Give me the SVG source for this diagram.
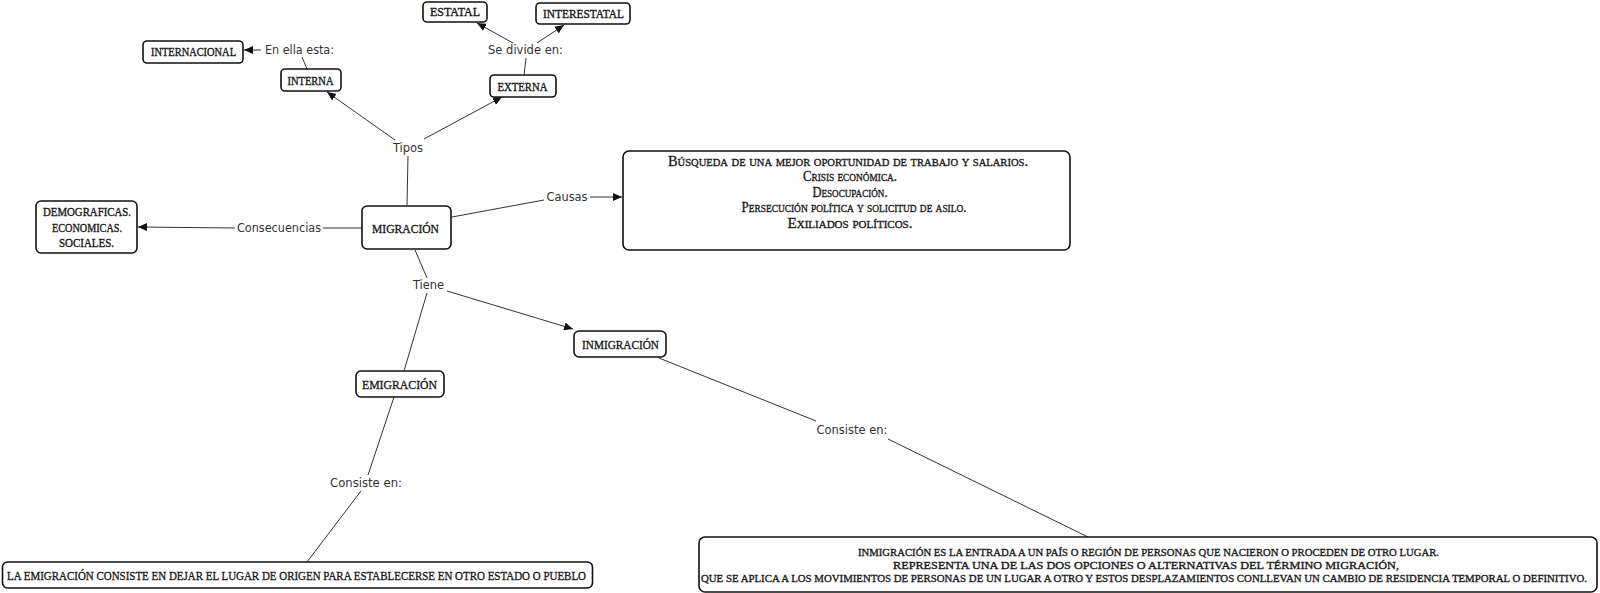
<svg xmlns="http://www.w3.org/2000/svg" width="1600" height="593" viewBox="0 0 1600 593">
<style>
.box{fill:#fff;stroke:#111;stroke-width:1.6}
.nt{font-family:"Liberation Serif","DejaVu Serif",serif;fill:#1a1a1a;stroke:#1a1a1a;stroke-width:0.35;text-anchor:middle}
.lb{font-family:"DejaVu Sans Condensed","DejaVu Sans",sans-serif;font-size:12px;fill:#333;text-anchor:middle}
.ln{stroke:#333;stroke-width:1;fill:none}
.ar{stroke:#333;stroke-width:1;fill:none;marker-end:url(#ah)}
.sc{font-variant:small-caps;font-size:15px}
</style>
<defs>
<marker id="ah" markerUnits="userSpaceOnUse" markerWidth="9" markerHeight="8" refX="9" refY="4" orient="auto">
<path d="M0,0 L9,4 L0,8 z" fill="#111"/>
</marker>
</defs>
<rect width="1600" height="593" fill="#fff"/>
<g id="connectors">
<line class="ln" x1="407" y1="205" x2="408" y2="156"/>
<line class="ar" x1="395" y1="140" x2="327" y2="92"/>
<line class="ar" x1="424" y1="139" x2="502" y2="97"/>
<line class="ln" x1="307" y1="69" x2="302" y2="57"/>
<line class="ar" x1="261" y1="50" x2="244" y2="50"/>
<line class="ln" x1="524" y1="75" x2="526" y2="58"/>
<line class="ar" x1="513" y1="43" x2="477" y2="23"/>
<line class="ar" x1="537" y1="43" x2="564" y2="25"/>
<line class="ln" x1="362" y1="228" x2="323" y2="228"/>
<line class="ar" x1="235" y1="228" x2="138" y2="227"/>
<line class="ln" x1="452" y1="217" x2="544" y2="200"/>
<line class="ar" x1="590" y1="197" x2="622" y2="197"/>
<line class="ln" x1="415" y1="250" x2="427" y2="278"/>
<line class="ar" x1="447" y1="291" x2="573" y2="329"/>
<line class="ln" x1="427" y1="293" x2="404" y2="371"/>
<line class="ln" x1="394" y1="397" x2="368" y2="475"/>
<line class="ln" x1="361" y1="491" x2="307" y2="562"/>
<line class="ln" x1="659" y1="358" x2="816" y2="421"/>
<line class="ln" x1="888" y1="439" x2="1088" y2="537"/>
<text class="lb" x="299.5" y="54" textLength="69" lengthAdjust="spacingAndGlyphs">En ella esta:</text>
<text class="lb" x="525.5" y="54" textLength="75" lengthAdjust="spacingAndGlyphs">Se divide en:</text>
<text class="lb" x="408" y="152" textLength="30" lengthAdjust="spacingAndGlyphs">Tipos</text>
<text class="lb" x="279" y="232" textLength="84" lengthAdjust="spacingAndGlyphs">Consecuencias</text>
<text class="lb" x="567" y="201" textLength="41" lengthAdjust="spacingAndGlyphs">Causas</text>
<text class="lb" x="428.5" y="289" textLength="31" lengthAdjust="spacingAndGlyphs">Tiene</text>
<text class="lb" x="366" y="487" textLength="72" lengthAdjust="spacingAndGlyphs">Consiste en:</text>
<text class="lb" x="852" y="434" textLength="71" lengthAdjust="spacingAndGlyphs">Consiste en:</text>
</g>
<g id="internacional">
<rect class="box" x="143" y="41" width="100" height="22" rx="4"/>
<text class="nt" x="193.5" y="55.5" font-size="11.5" textLength="85" lengthAdjust="spacingAndGlyphs">INTERNACIONAL</text>
</g>
<g id="interna">
<rect class="box" x="281" y="69" width="60" height="22" rx="4"/>
<text class="nt" x="310.5" y="84.5" font-size="11.5" textLength="46" lengthAdjust="spacingAndGlyphs">INTERNA</text>
</g>
<g id="estatal">
<rect class="box" x="423" y="2" width="64" height="20" rx="4"/>
<text class="nt" x="455" y="15.5" font-size="11.5" textLength="50" lengthAdjust="spacingAndGlyphs">ESTATAL</text>
</g>
<g id="interestatal">
<rect class="box" x="536" y="3" width="94" height="21" rx="4"/>
<text class="nt" x="583.5" y="17.5" font-size="11.5" textLength="81" lengthAdjust="spacingAndGlyphs">INTERESTATAL</text>
</g>
<g id="externa">
<rect class="box" x="490" y="75" width="66" height="22" rx="4"/>
<text class="nt" x="522.5" y="90.5" font-size="11.5" textLength="50" lengthAdjust="spacingAndGlyphs">EXTERNA</text>
</g>
<g id="consecuencias">
<rect class="box" x="36" y="201" width="101" height="52" rx="5"/>
<text class="nt" x="87" y="216" font-size="11.5" textLength="88" lengthAdjust="spacingAndGlyphs">DEMOGRAFICAS.</text>
<text class="nt" x="87" y="231.5" font-size="11.5" textLength="70" lengthAdjust="spacingAndGlyphs">ECONOMICAS.</text>
<text class="nt" x="86.5" y="247" font-size="11.5" textLength="55" lengthAdjust="spacingAndGlyphs">SOCIALES.</text>
</g>
<g id="migracion">
<rect class="box" x="362" y="206" width="89" height="43" rx="5"/>
<text class="nt" x="405.5" y="233" font-size="13.5" textLength="67" lengthAdjust="spacingAndGlyphs">MIGRACIÓN</text>
</g>
<g id="causas">
<rect class="box" x="623" y="151" width="447" height="99" rx="6"/>
<text class="nt sc" x="848" y="166" textLength="360" lengthAdjust="spacingAndGlyphs">Búsqueda de una mejor oportunidad de trabajo y salarios.</text>
<text class="nt sc" x="850" y="181" textLength="94" lengthAdjust="spacingAndGlyphs">Crisis económica.</text>
<text class="nt sc" x="850" y="197" textLength="75" lengthAdjust="spacingAndGlyphs">Desocupación.</text>
<text class="nt sc" x="854" y="212" textLength="225" lengthAdjust="spacingAndGlyphs">Persecución política y solicitud de asilo.</text>
<text class="nt sc" x="850" y="228" textLength="125" lengthAdjust="spacingAndGlyphs">Exiliados políticos.</text>
</g>
<g id="inmigracion">
<rect class="box" x="574" y="331" width="92" height="26" rx="5"/>
<text class="nt" x="620.5" y="349" font-size="13" textLength="77" lengthAdjust="spacingAndGlyphs">INMIGRACIÓN</text>
</g>
<g id="emigracion">
<rect class="box" x="356" y="371" width="88" height="26" rx="5"/>
<text class="nt" x="399.5" y="389" font-size="13" textLength="75" lengthAdjust="spacingAndGlyphs">EMIGRACIÓN</text>
</g>
<g id="emigracion-def">
<rect class="box" x="2.5" y="562" width="590" height="26" rx="5"/>
<text class="nt" x="296.5" y="579.5" font-size="13" textLength="579" lengthAdjust="spacingAndGlyphs">LA EMIGRACIÓN CONSISTE EN DEJAR EL LUGAR DE ORIGEN PARA ESTABLECERSE EN OTRO ESTADO O PUEBLO</text>
</g>
<g id="inmigracion-def">
<rect class="box" x="699" y="537" width="898" height="55" rx="6"/>
<text class="nt" x="1148.5" y="556" font-size="11" textLength="581" lengthAdjust="spacingAndGlyphs">INMIGRACIÓN ES LA ENTRADA A UN PAÍS O REGIÓN DE PERSONAS QUE NACIERON O PROCEDEN DE OTRO LUGAR.</text>
<text class="nt" x="1146" y="569" font-size="11" textLength="506" lengthAdjust="spacingAndGlyphs">REPRESENTA UNA DE LAS DOS OPCIONES O ALTERNATIVAS DEL TÉRMINO MIGRACIÓN,</text>
<text class="nt" x="1144" y="582" font-size="11" textLength="886" lengthAdjust="spacingAndGlyphs">QUE SE APLICA A LOS MOVIMIENTOS DE PERSONAS DE UN LUGAR A OTRO Y ESTOS DESPLAZAMIENTOS CONLLEVAN UN CAMBIO DE RESIDENCIA TEMPORAL O DEFINITIVO.</text>
</g>
</svg>
